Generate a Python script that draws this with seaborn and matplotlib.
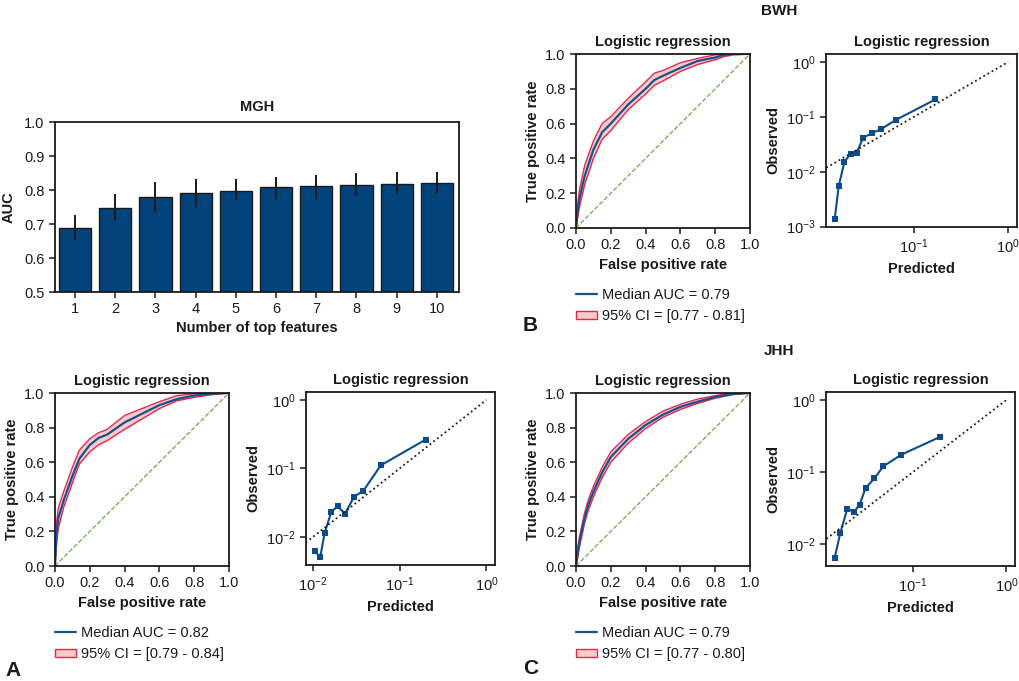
import numpy as np
import pandas as pd
import matplotlib
matplotlib.use("Agg")
import matplotlib.pyplot as plt
import seaborn as sns
from matplotlib.lines import Line2D
from matplotlib.patches import Patch
from matplotlib.ticker import NullLocator, LogLocator

# ---- data ----
# MGH: AUC by number of top features
n_features = ["1", "2", "3", "4", "5", "6", "7", "8", "9", "10"]
auc_mean = [0.688, 0.748, 0.779, 0.790, 0.798, 0.808, 0.812, 0.815, 0.819, 0.821]
auc_low = [0.653, 0.712, 0.736, 0.751, 0.767, 0.773, 0.775, 0.783, 0.789, 0.789]
auc_high = [0.726, 0.788, 0.824, 0.832, 0.832, 0.838, 0.845, 0.849, 0.853, 0.853]

# ROC curves (median and 95% CI bounds)
fpr_a = [0, 0.01, 0.02, 0.05, 0.1, 0.14, 0.2, 0.25, 0.3, 0.4, 0.5, 0.6, 0.7, 0.8, 0.9, 1.0]
tpr_a_med = [0, 0.20, 0.28, 0.38, 0.52, 0.62, 0.70, 0.74, 0.76, 0.83, 0.88, 0.93, 0.965, 0.985, 0.996, 1.0]
tpr_a_hi = [0, 0.26, 0.34, 0.43, 0.57, 0.67, 0.735, 0.77, 0.79, 0.87, 0.91, 0.95, 0.985, 0.995, 1.0, 1.0]
tpr_a_lo = [0, 0.15, 0.22, 0.34, 0.48, 0.59, 0.66, 0.70, 0.725, 0.79, 0.85, 0.91, 0.955, 0.975, 0.99, 1.0]

fpr_b = [0, 0.01, 0.02, 0.05, 0.1, 0.15, 0.2, 0.3, 0.4, 0.45, 0.5, 0.6, 0.7, 0.8, 0.85, 0.9, 1.0]
tpr_b_med = [0, 0.10, 0.17, 0.30, 0.45, 0.55, 0.60, 0.71, 0.80, 0.85, 0.875, 0.92, 0.96, 0.98, 0.995, 1.0, 1.0]
tpr_b_hi = [0, 0.14, 0.22, 0.36, 0.50, 0.60, 0.64, 0.745, 0.84, 0.89, 0.905, 0.95, 0.975, 0.995, 1.0, 1.0, 1.0]
tpr_b_lo = [0, 0.06, 0.12, 0.25, 0.40, 0.51, 0.56, 0.68, 0.77, 0.82, 0.845, 0.90, 0.94, 0.967, 0.985, 0.995, 1.0]

fpr_c = [0, 0.01, 0.02, 0.05, 0.07, 0.1, 0.15, 0.2, 0.3, 0.4, 0.5, 0.6, 0.7, 0.8, 0.9, 1.0]
tpr_c_med = [0, 0.08, 0.14, 0.28, 0.35, 0.43, 0.54, 0.63, 0.735, 0.815, 0.875, 0.92, 0.95, 0.977, 0.995, 1.0]
tpr_c_hi = [0, 0.11, 0.17, 0.31, 0.38, 0.46, 0.57, 0.66, 0.76, 0.835, 0.895, 0.935, 0.965, 0.985, 1.0, 1.0]
tpr_c_lo = [0, 0.05, 0.11, 0.25, 0.32, 0.40, 0.51, 0.60, 0.71, 0.795, 0.86, 0.905, 0.94, 0.97, 0.99, 1.0]

# calibration (predicted vs observed)
pred_a = [0.0105, 0.0122, 0.0137, 0.0164, 0.0193, 0.0236, 0.030, 0.0382, 0.0607, 0.199]
obs_a = [0.0063, 0.0051, 0.0115, 0.0235, 0.028, 0.022, 0.039, 0.047, 0.111, 0.263]
pred_b = [0.0145, 0.0160, 0.0184, 0.0214, 0.0248, 0.029, 0.0359, 0.0448, 0.0647, 0.169]
obs_b = [0.00137, 0.0055, 0.0152, 0.0212, 0.0221, 0.0415, 0.0504, 0.0596, 0.088, 0.207]
pred_c = [0.0145, 0.0167, 0.0198, 0.0236, 0.0268, 0.0311, 0.0386, 0.0482, 0.0751, 0.197]
obs_c = [0.0064, 0.0143, 0.0307, 0.0281, 0.0352, 0.0596, 0.0816, 0.120, 0.174, 0.309]

legend_a = ["Median AUC = 0.82", "95% CI = [0.79 - 0.84]"]
legend_b = ["Median AUC = 0.79", "95% CI = [0.77 - 0.81]"]
legend_c = ["Median AUC = 0.79", "95% CI = [0.77 - 0.80]"]

# ---- style ----
sns.set_theme(style="ticks")
plt.rcParams["font.family"] = ["Liberation Sans", "DejaVu Sans"]
plt.rcParams.update({
    "font.size": 10.5,
    "axes.linewidth": 1.3,
    "axes.edgecolor": "#1a1a1a",
    "text.color": "#1a1a1a",
    "axes.labelcolor": "#1a1a1a",
    "xtick.color": "#1a1a1a",
    "ytick.color": "#1a1a1a",
    "xtick.labelsize": 10.5,
    "ytick.labelsize": 10.5,
    "xtick.major.size": 4,
    "ytick.major.size": 4,
    "xtick.major.width": 1.1,
    "ytick.major.width": 1.1,
    "axes.titlesize": 10.5,
    "axes.titleweight": "bold",
    "axes.labelweight": "bold",
    "axes.labelsize": 10.5,
})

BAR_BLUE = "#03437b"
LINE_BLUE = "#0d4c8a"
MED_BLUE = "#1b4f90"
CI_RED = "#e3284e"
CI_FILL = "#f6cdc8"
DIAG_GREEN = "#6fa84a"

W, H = 1020, 681
fig = plt.figure(figsize=(W / 100, H / 100), dpi=100)


def ax_at(l, t, r, b):
    return fig.add_axes([l / W, 1 - b / H, (r - l) / W, (b - t) / H])


# ---- MGH bar chart ----
ax = ax_at(55, 122, 459, 292)
bars = pd.DataFrame({"n": n_features, "auc": auc_mean})
sns.barplot(data=bars, x="n", y="auc", color=BAR_BLUE, saturation=1,
            edgecolor="#1a1a1a", linewidth=1.0, errorbar=None, width=0.8, ax=ax)
ax.vlines(np.arange(len(n_features)), auc_low, auc_high, color="#1a1a1a", lw=1.4)
ax.set_ylim(0.5, 1.0)
ax.set_yticks([0.5, 0.6, 0.7, 0.8, 0.9, 1.0])
ax.set_xlim(-0.5, len(n_features) - 0.45)
ax.set_xlabel("Number of top features", labelpad=3)
ax.set_ylabel("AUC", labelpad=6)
ax.set_title("MGH", pad=8)


def roc_panel(box, fpr, med, lo, hi, labels):
    ax = ax_at(*box)
    ax.fill_between(fpr, lo, hi, color=CI_FILL, lw=0)
    sns.lineplot(x=fpr, y=lo, color=CI_RED, lw=1.0, estimator=None, ax=ax)
    sns.lineplot(x=fpr, y=hi, color=CI_RED, lw=1.0, estimator=None, ax=ax)
    sns.lineplot(x=fpr, y=med, color=MED_BLUE, lw=1.6, estimator=None, ax=ax)
    ax.plot([0, 1], [0, 1], ls="--", color=DIAG_GREEN, lw=0.9)
    ax.set_xlim(0, 1)
    ax.set_ylim(0, 1)
    ticks = [0.0, 0.2, 0.4, 0.6, 0.8, 1.0]
    ax.set_xticks(ticks)
    ax.set_yticks(ticks)
    ax.set_xlabel("False positive rate", labelpad=4)
    ax.set_ylabel("True positive rate", labelpad=4)
    ax.set_title("Logistic regression", pad=6)
    handles = [Line2D([], [], color=MED_BLUE, lw=1.6),
               Patch(facecolor=CI_FILL, edgecolor=CI_RED, lw=1.0)]
    ax.legend(handles, labels, loc="upper left", frameon=False,
              bbox_to_anchor=(box[0] / W, 1 - (box[3] + 60) / H),
              bbox_transform=fig.transFigure, borderaxespad=0, borderpad=0,
              handlelength=1.45, handleheight=0.5, handletextpad=0.3,
              labelspacing=0.5, fontsize=10.5)
    return ax


def calib_panel(box, pred, obs):
    ax = ax_at(*box)
    ax.set_xscale("log")
    ax.set_yscale("log")
    sns.lineplot(x=pred, y=obs, color=LINE_BLUE, lw=1.5, marker="s",
                 markersize=5, markeredgewidth=0, estimator=None, ax=ax)
    ax.plot([0, 1], [0, 1], ls=":", color="#1a1a1a", lw=1.3, scalex=False, scaley=False)
    ax.update_datalim([[1, 1]])
    ax.autoscale_view()
    ax.xaxis.set_major_locator(LogLocator(base=10))
    ax.yaxis.set_major_locator(LogLocator(base=10))
    ax.xaxis.set_minor_locator(NullLocator())
    ax.yaxis.set_minor_locator(NullLocator())
    ax.set_xlabel("Predicted", labelpad=4)
    ax.set_ylabel("Observed", labelpad=4)
    ax.set_title("Logistic regression", pad=6)
    return ax


roc_panel((55, 393, 229, 566), fpr_a, tpr_a_med, tpr_a_lo, tpr_a_hi, legend_a)
calib_panel((306, 392, 495, 565), pred_a, obs_a)
roc_panel((576, 54, 750, 228), fpr_b, tpr_b_med, tpr_b_lo, tpr_b_hi, legend_b)
calib_panel((826, 54, 1017, 227), pred_b, obs_b)
roc_panel((576, 393, 750, 566), fpr_c, tpr_c_med, tpr_c_lo, tpr_c_hi, legend_c)
calib_panel((826, 392, 1015, 566), pred_c, obs_c)

# group titles and panel letters
fig.text(779 / W, 1 - 11 / H, "BWH", ha="center", va="center", fontsize=11, fontweight="bold")
fig.text(779 / W, 1 - 351 / H, "JHH", ha="center", va="center", fontsize=11, fontweight="bold")
fig.text(5 / W, 1 - 671 / H, "A", ha="left", va="center", fontsize=15, fontweight="bold")
fig.text(523 / W, 1 - 326 / H, "B", ha="left", va="center", fontsize=15, fontweight="bold")
fig.text(523 / W, 1 - 668 / H, "C", ha="left", va="center", fontsize=15, fontweight="bold")

fig.savefig("out.png", dpi=100)
